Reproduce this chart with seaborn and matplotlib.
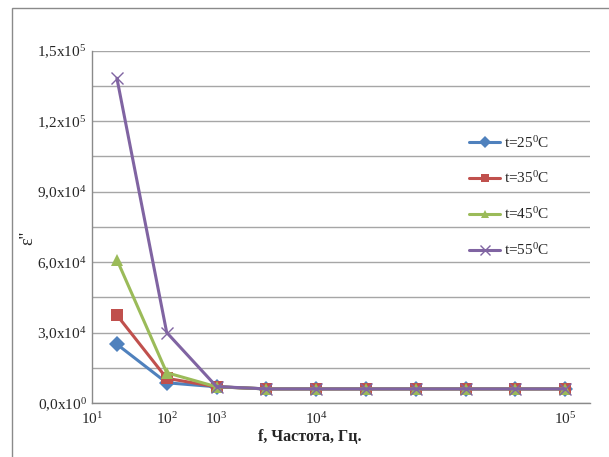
import numpy as np
import pandas as pd
import matplotlib
matplotlib.use("Agg")
import matplotlib.pyplot as plt
from matplotlib.patches import Rectangle
import seaborn as sns

# frequency points (category positions along the x axis)
point_idx = [0, 1, 2, 3, 4, 5, 6, 7, 8, 9]

# epsilon'' values
eps_25 = [25000, 8600, 6900, 6000, 6000, 6000, 6000, 6000, 6000, 6000]
eps_35 = [37400, 10500, 6900, 6000, 6000, 6000, 6000, 6000, 6000, 6000]
eps_45 = [61000, 12900, 6900, 6000, 6000, 6000, 6000, 6000, 6000, 6000]
eps_55 = [138200, 30000, 7000, 6000, 6000, 6000, 6000, 6000, 6000, 6000]

series_names = ["t=25$^0$C", "t=35$^0$C", "t=45$^0$C", "t=55$^0$C"]
colors = ["#4F81BD", "#C0504D", "#9BBB59", "#8064A2"]
markers = ["D", "s", "^", "x"]

x_tick_labels = ["10$^1$", "10$^2$", "10$^3$", "10$^4$", "10$^5$"]
y_ticks = [0, 30000, 60000, 90000, 120000, 150000]
y_tick_labels = ["0,0x10$^0$", "3,0x10$^4$", "6,0x10$^4$", "9,0x10$^4$",
                 "1,2x10$^5$", "1,5x10$^5$"]

sns.set_style("white")
plt.rcParams["font.family"] = ["Liberation Serif", "DejaVu Serif"]
plt.rcParams["mathtext.fontset"] = "custom"
plt.rcParams["mathtext.rm"] = "Liberation Serif"
plt.rcParams["mathtext.it"] = "Liberation Serif"
plt.rcParams["mathtext.default"] = "regular"

fig = plt.figure(figsize=(6.09, 4.57), dpi=100)
ax = fig.add_axes([92 / 609, 54 / 457, 498 / 609, 352.5 / 457])

# outer chart border
fig.patches.append(Rectangle((12 / 609, -0.05), 1.0, 1 - 8 / 457 + 0.05,
                             transform=fig.transFigure, fill=False,
                             edgecolor="#8a8a8a", linewidth=1.0))

handles = []
for name, vals, c, m in zip(series_names, [eps_25, eps_35, eps_45, eps_55],
                            colors, markers):
    df = pd.DataFrame({"idx": point_idx, "eps": vals})
    kw = dict(markeredgewidth=1.0, markersize=9) if m == "x" else \
        dict(markeredgewidth=0, markersize=8)
    sns.lineplot(data=df, x="idx", y="eps", color=c, marker=m,
                 markeredgecolor=c, linewidth=2.2, ax=ax, **kw)
    h, = ax.plot([], [], color=c, marker=m, linewidth=2.2,
                 markeredgecolor=c, markersize=kw["markersize"] - 2,
                 markeredgewidth=kw["markeredgewidth"])
    handles.append(h)

ax.set_xlim(-0.5, 9.5)
ax.set_ylim(0, 150000)
ax.set_xticks([-0.5, 1, 2, 4, 9])
ax.set_xticklabels(x_tick_labels, fontsize=11)
ax.set_yticks(y_ticks)
ax.set_yticklabels(y_tick_labels, fontsize=11)
ax.set_yticks(np.arange(15000, 150000, 30000), minor=True)
ax.tick_params(axis="x", length=0, pad=6)
ax.tick_params(axis="y", which="both", length=0, pad=4)

ax.grid(True, axis="y", which="both", color="#a6a6a6", linewidth=1.0)
ax.grid(False, axis="x")
ax.set_axisbelow(True)
for side in ["top", "right"]:
    ax.spines[side].set_visible(False)
for side in ["left", "bottom"]:
    ax.spines[side].set_color("#8a8a8a")
    ax.spines[side].set_linewidth(1.0)

ax.set_xlabel("")
ax.set_ylabel("")
fig.text(310 / 609, 1 - 437 / 457, "f, Частота, Гц.", ha="center", va="center",
         fontsize=11.5, fontweight="bold")
fig.text(28 / 609, 1 - 238 / 457, "ε''", ha="center", va="center",
         rotation=90, fontsize=13)

ax.legend(handles, series_names, frameon=False, fontsize=11,
          loc="upper left", bbox_to_anchor=(0.73, 0.80), handlelength=2.0,
          handletextpad=0.3, labelspacing=1.3)

fig.savefig("out.png", dpi=100)
